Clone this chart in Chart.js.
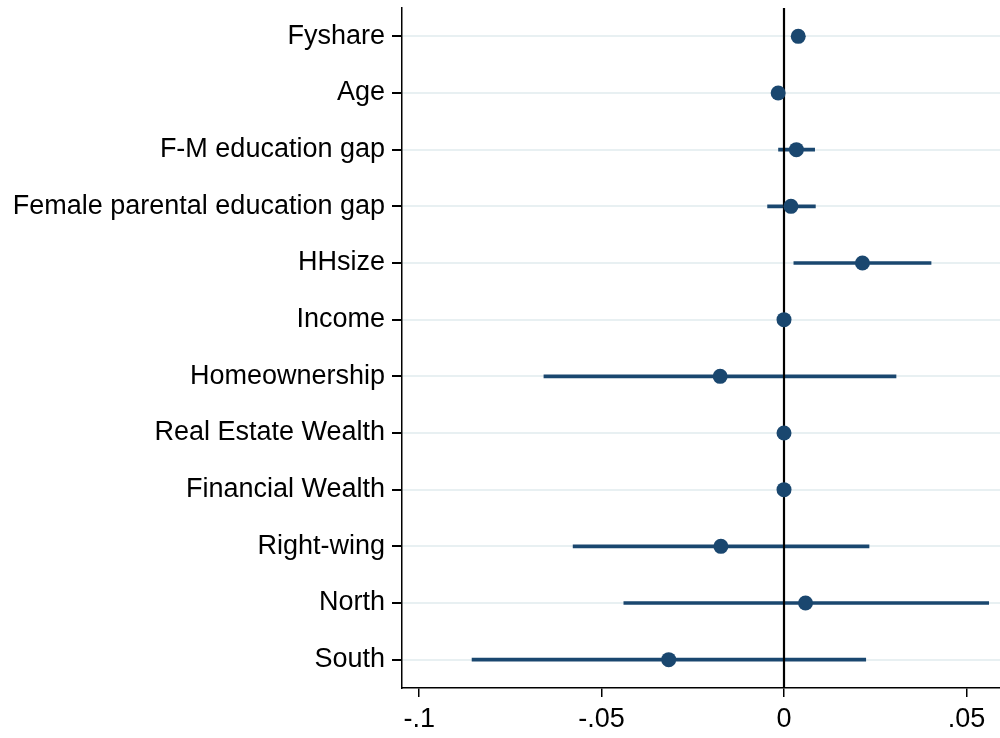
<!DOCTYPE html>
<html>
<head>
<meta charset="utf-8">
<script src="https://cdn.jsdelivr.net/npm/chart.js@4"></script>
<style>
  html, body { margin: 0; padding: 0; background: #ffffff; }
  #wrap { width: 1000px; height: 738px; }
</style>
</head>
<body>
<div id="wrap"><canvas id="c" width="1000" height="738"></canvas></div>
<script>
// Regression coefficients with 95% confidence intervals
const variables = [
  'Fyshare', 'Age', 'F-M education gap', 'Female parental education gap',
  'HHsize', 'Income', 'Homeownership', 'Real Estate Wealth',
  'Financial Wealth', 'Right-wing', 'North', 'South'
];
const coefficients = [0.0039, -0.0016, 0.0034, 0.0019, 0.0215, 0.0000, -0.0175, 0.0000, 0.0000, -0.0173, 0.0059, -0.0316];
const ciLower = [0.0030, -0.0024, -0.0015, -0.0045, 0.0027, -0.0002, -0.0658, -0.0002, -0.0002, -0.0578, -0.0439, -0.0855];
const ciUpper = [0.0048, -0.0008, 0.0084, 0.0086, 0.0403, 0.0002, 0.0307, 0.0002, 0.0002, 0.0233, 0.0561, 0.0224];
const xTickValues = [-0.1, -0.05, 0, 0.05];
const xTickLabels = ['-.1', '-.05', '0', '.05'];

const navy = '#1a476f';
const fontSpec = { family: '"Liberation Sans", Arial, sans-serif', size: 27 };

// Vertical reference line at zero, drawn over the interval lines but under the markers
const zeroLine = {
  id: 'zeroLine',
  afterDatasetDraw(chart, args) {
    if (args.index !== 0) return;
    const { ctx, chartArea, scales } = chart;
    const x = Math.round(scales.x.getPixelForValue(0));
    ctx.save();
    ctx.strokeStyle = '#000000';
    ctx.lineWidth = 2.2;
    ctx.beginPath();
    ctx.moveTo(x, chartArea.top);
    ctx.lineTo(x, chartArea.bottom);
    ctx.stroke();
    ctx.restore();
  }
};

new Chart(document.getElementById('c'), {
  type: 'bar',
  data: {
    labels: variables,
    datasets: [
      {
        type: 'bar',
        data: ciLower.map((lo, i) => [lo, ciUpper[i]]),
        backgroundColor: navy,
        borderWidth: 0,
        barThickness: 3,
        order: 1
      },
      {
        type: 'line',
        data: coefficients,
        showLine: false,
        pointRadius: 7.5,
        pointHoverRadius: 7.5,
        pointBackgroundColor: navy,
        pointBorderColor: navy,
        pointBorderWidth: 0,
        order: 0
      }
    ]
  },
  options: {
    indexAxis: 'y',
    responsive: false,
    animation: false,
    layout: { autoPadding: false, padding: { top: 8, right: 0, left: 0, bottom: 0 } },
    plugins: { legend: { display: false }, tooltip: { enabled: false } },
    scales: {
      x: {
        type: 'linear',
        min: -0.1047,
        max: 0.0592,
        afterBuildTicks(scale) { scale.ticks = xTickValues.map(v => ({ value: v })); },
        afterFit(scale) {
          scale.height = 50;
          scale.paddingLeft = 0;
          scale.paddingRight = 0;
        },
        ticks: {
          color: '#000000',
          font: fontSpec,
          padding: 6,
          maxRotation: 0,
          callback(value) {
            const i = xTickValues.findIndex(v => Math.abs(v - value) < 1e-9);
            return i >= 0 ? xTickLabels[i] : '';
          }
        },
        grid: { drawOnChartArea: false, color: '#000000', tickColor: '#000000', tickLength: 9, lineWidth: 1.5 },
        border: { color: '#000000', width: 1.5 }
      },
      y: {
        type: 'category',
        offset: true,
        afterFit(scale) {
          scale.width = 402;
          scale.paddingTop = 0;
          scale.paddingBottom = 0;
        },
        ticks: { color: '#000000', font: fontSpec, padding: 7, autoSkip: false },
        grid: { offset: false, color: '#e8f0f2', lineWidth: 2, tickColor: '#000000', tickLength: 10 },
        border: { color: '#000000', width: 1.5 }
      }
    }
  },
  plugins: [zeroLine]
});
</script>
</body>
</html>
